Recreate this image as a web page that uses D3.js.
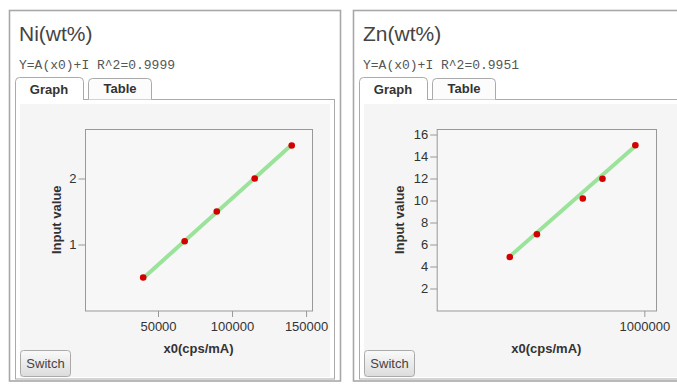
<!DOCTYPE html>
<html><head><meta charset="utf-8">
<script src="https://cdn.jsdelivr.net/npm/d3@7"></script>
<style>body{margin:0;background:#fff}svg{display:block}</style>
</head><body>
<svg id="c" width="677" height="384"></svg>
<script>
// ---- Data ----
const niTitle = "Ni(wt%)";
const niEquation = "Y=A(x0)+I R^2=0.9999";
const niX = [40000, 68000, 89700, 115300, 140300];
const niY = [0.5, 1.05, 1.5, 2.0, 2.5];
const niFitX = [40000, 140300];
const niFitY = [0.49, 2.51];
const niXTicks = [50000, 100000, 150000];
const niYTicks = [1, 2];
const niXDomain = [700, 154000];
const niYDomain = [0, 2.75];

const znTitle = "Zn(wt%)";
const znEquation = "Y=A(x0)+I R^2=0.9951";
const znX = [460000, 569000, 753000, 832000, 964000];
const znY = [4.86, 6.93, 10.18, 11.98, 15.02];
const znFitX = [460000, 964000];
const znFitY = [4.92, 14.95];
const znXTicks = [1000000];
const znYTicks = [2, 4, 6, 8, 10, 12, 14, 16];
const znXDomain = [166800, 1046800];
const znYDomain = [0, 16.5];

const tabLabels = ["Graph", "Table"];
const xAxisLabel = "x0(cps/mA)";
const yAxisLabel = "Input value";
const buttonLabel = "Switch";

// ---- Drawing ----
const FONT = "Liberation Sans, Arial, sans-serif";
const svg = d3.select("#c");
const defs = svg.append("defs");
const grad = defs.append("linearGradient").attr("id","btn").attr("x1",0).attr("x2",0).attr("y1",0).attr("y2",1);
grad.append("stop").attr("offset","0%").attr("stop-color","#fafafa");
grad.append("stop").attr("offset","100%").attr("stop-color","#dcdcdc");

function tabPath(x0, x1, y0, y1, r){
  return `M${x0},${y1} L${x0},${y0+r} Q${x0},${y0} ${x0+r},${y0} L${x1-r},${y0} Q${x1},${y0} ${x1},${y0+r} L${x1},${y1}`;
}

function drawPanel(cfg){
  const g = svg.append("g").attr("transform", `translate(${cfg.ox},0)`);
  // outer panel
  g.append("rect").attr("x",9.5).attr("y",10.5).attr("width",cfg.outerW).attr("height",370.5)
    .attr("fill","#fff").attr("stroke","#a8a8a8").attr("stroke-width",1.6);
  g.append("text").attr("x",19).attr("y",41).text(cfg.title)
    .attr("font-family",FONT).attr("font-size",21).attr("fill","#444");
  g.append("text").attr("x",19).attr("y",69).text(cfg.eq)
    .attr("font-family","Liberation Mono, Courier New, monospace").attr("font-size",13).attr("fill","#555")
    .attr("xml:space","preserve");
  // content box
  g.append("rect").attr("x",15.5).attr("y",99.5).attr("width",cfg.contentW).attr("height",279.5)
    .attr("fill","#fff").attr("stroke","#aaa");
  g.append("rect").attr("x",20).attr("y",104).attr("width",cfg.contentW-9).attr("height",273)
    .attr("fill","#f5f5f5");
  // tabs
  g.append("path").attr("d", tabPath(88.5,151.5,78.5,99.5,4)).attr("fill","#fcfcfc").attr("stroke","#aaa");
  g.append("rect").attr("x",16).attr("y",95).attr("width",67).attr("height",6).attr("fill","#fff");
  g.append("path").attr("d", tabPath(15.5,83.5,77.5,100,4)).attr("fill","#fff").attr("stroke","#aaa");
  g.append("text").attr("x",49).attr("y",94).attr("text-anchor","middle").text(tabLabels[0])
    .attr("font-family",FONT).attr("font-size",13).attr("font-weight","bold").attr("fill","#333");
  g.append("text").attr("x",120).attr("y",93).attr("text-anchor","middle").text(tabLabels[1])
    .attr("font-family",FONT).attr("font-size",13).attr("font-weight","bold").attr("fill","#333");

  // plot
  const pl = cfg.plotL, pr = 312, pt = 129, pb = 310.5;
  const x = d3.scaleLinear().domain(cfg.xDomain).range([pl, pr]);
  const y = d3.scaleLinear().domain(cfg.yDomain).range([pb, pt]);
  g.append("rect").attr("x",pl+0.5).attr("y",pt+0.5).attr("width",pr-pl).attr("height",pb-pt)
    .attr("fill","#f7f7f7").attr("stroke","#999");

  const xa = g.append("g").attr("transform",`translate(0,${pb+0.5})`)
    .call(d3.axisBottom(x).tickValues(cfg.xTicks).tickSize(6).tickPadding(5).tickFormat(d3.format("d")));
  const ya = g.append("g").attr("transform",`translate(${pl+0.5},0)`)
    .call(d3.axisLeft(y).tickValues(cfg.yTicks).tickSize(7).tickPadding(2).tickFormat(d3.format("d")));
  [xa, ya].forEach(a => {
    a.select(".domain").remove();
    a.selectAll(".tick line").attr("stroke","#999");
    a.selectAll(".tick text").attr("fill","#333").attr("font-size",13)
      .attr("font-family",FONT);
  });

  // fit line
  const fit = cfg.fitX.map((v,i)=>[v, cfg.fitY[i]]);
  g.append("path").datum(fit)
    .attr("d", d3.line().x(d=>x(d[0])).y(d=>y(d[1])))
    .attr("stroke","#9be39b").attr("stroke-width",4).attr("fill","none").attr("stroke-linecap","round");
  // points
  g.selectAll("circle.pt").data(cfg.xs.map((v,i)=>[v, cfg.ys[i]])).enter().append("circle")
    .attr("cx",d=>x(d[0])).attr("cy",d=>y(d[1])).attr("r",3.3).attr("fill","#d40000");

  // axis labels
  g.append("text").attr("x",(pl+pr)/2).attr("y",353).attr("text-anchor","middle").text(xAxisLabel)
    .attr("font-family",FONT).attr("font-size",13).attr("font-weight","bold").attr("fill","#333");
  g.append("text").attr("transform",`translate(${cfg.ylabX},${(pt+pb)/2}) rotate(-90)`)
    .attr("text-anchor","middle").text(yAxisLabel)
    .attr("font-family",FONT).attr("font-size",13).attr("font-weight","bold").attr("fill","#333");

  // button
  g.append("rect").attr("x",20.5).attr("y",350.5).attr("width",50).attr("height",26).attr("rx",3)
    .attr("fill","url(#btn)").attr("stroke","#aaa");
  g.append("text").attr("x",45.5).attr("y",368).attr("text-anchor","middle").text(buttonLabel)
    .attr("font-family",FONT).attr("font-size",13).attr("fill","#444");
}

drawPanel({ox:0, outerW:331, contentW:319, title:niTitle, eq:niEquation, xs:niX, ys:niY,
  fitX:niFitX, fitY:niFitY, xTicks:niXTicks, yTicks:niYTicks, xDomain:niXDomain, yDomain:niYDomain,
  plotL:85, ylabX:61});
drawPanel({ox:344, outerW:400, contentW:400, title:znTitle, eq:znEquation, xs:znX, ys:znY,
  fitX:znFitX, fitY:znFitY, xTicks:znXTicks, yTicks:znYTicks, xDomain:znXDomain, yDomain:znYDomain,
  plotL:92.7, ylabX:60});
</script>
</body></html>
